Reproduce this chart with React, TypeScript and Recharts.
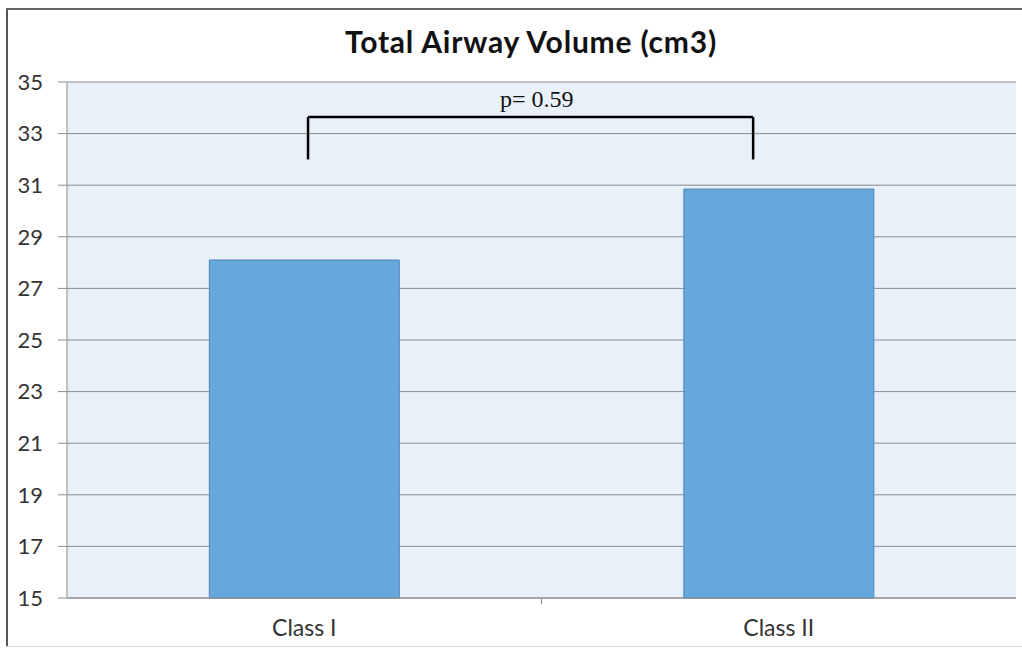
import React from 'react';
import { BarChart, Bar, XAxis, YAxis, CartesianGrid, ReferenceLine, ReferenceDot } from 'recharts';

const categories = ['Class I', 'Class II'];
const volumes = [28.1, 30.85];
const yTicks = [15, 17, 19, 21, 23, 25, 27, 29, 31, 33, 35];
const title = 'Total Airway Volume (cm3)';
const pLabel = 'p= 0.59';
// bracket in fraction-of-plot-width (x) and value units (y)
const bracketX = [0.254, 0.723];
const bracketYTop = 33.64;
const bracketYBottom = 32.0;
const pLabelPos = { x: 0.495, y: 34.35 };
const categoryBoundary = 0.5;

const data = categories.map((c, i) => ({ name: c, value: volumes[i] }));

const font = 'Lato, "Open Sans", sans-serif';

export default function App() {
  return (
    <div style={{ position: 'absolute', left: 0, top: 0, width: 1022, height: 649, background: '#fff', overflow: 'hidden' }}>
      <div style={{ position: 'absolute', left: 6, top: 8, width: 2, height: 639, background: '#555' }} />
      <div style={{ position: 'absolute', left: 6, top: 8, width: 1016, height: 2, background: '#666' }} />
      <div style={{ position: 'absolute', left: 6, top: 646, width: 1016, height: 1, background: '#ddd' }} />
      <div style={{ position: 'absolute', left: 0, top: 23, width: 1062, textAlign: 'center', fontFamily: font, fontWeight: 700, fontSize: 30, letterSpacing: 0.8, color: '#111' }}>
        {title}
      </div>
      <div style={{ position: 'absolute', left: 0, top: 0 }}>
        <BarChart width={1022} height={649} data={data} margin={{ top: 82, right: 6, bottom: 0, left: 0 }} barCategoryGap="30%">
          <CartesianGrid vertical={false} stroke="#8c8c8c" fill="#e8f0f9" />
          <XAxis xAxisId="cat" dataKey="name" stroke="#8c8c8c" tickLine={false} tickMargin={16} height={51}
            tick={{ fill: '#333', fontSize: 23, fontFamily: font }} />
          <XAxis xAxisId="num" type="number" domain={[0, 1]} hide height={0} />
          <YAxis domain={[15, 35]} ticks={yTicks} width={67} stroke="#8c8c8c" tickSize={9} tickMargin={15}
            interval={0}
            tick={{ fill: '#333', fontSize: 22, fontFamily: font }} />
          <Bar xAxisId="cat" dataKey="value" fill="#66a7dc" stroke="#4d86bb" strokeWidth={1} isAnimationActive={false} />
          <ReferenceLine xAxisId="num" ifOverflow="visible" segment={[{ x: categoryBoundary, y: 15 }, { x: categoryBoundary, y: 14.75 }]} stroke="#8c8c8c" strokeWidth={1} />
          <ReferenceLine xAxisId="num" segment={[{ x: bracketX[0], y: bracketYBottom }, { x: bracketX[0], y: bracketYTop }]} stroke="#000" strokeWidth={2.5} />
          <ReferenceLine xAxisId="num" segment={[{ x: bracketX[0], y: bracketYTop }, { x: bracketX[1], y: bracketYTop }]} stroke="#000" strokeWidth={2.5} />
          <ReferenceLine xAxisId="num" segment={[{ x: bracketX[1], y: bracketYTop }, { x: bracketX[1], y: bracketYBottom }]} stroke="#000" strokeWidth={2.5} />
          <ReferenceDot xAxisId="num" x={pLabelPos.x} y={pLabelPos.y} r={0} fill="none" stroke="none"
            label={{ value: pLabel, position: 'center', fill: '#111', fontSize: 24, fontFamily: '"Liberation Serif", "DejaVu Serif", serif' }} />
        </BarChart>
      </div>
    </div>
  );
}
